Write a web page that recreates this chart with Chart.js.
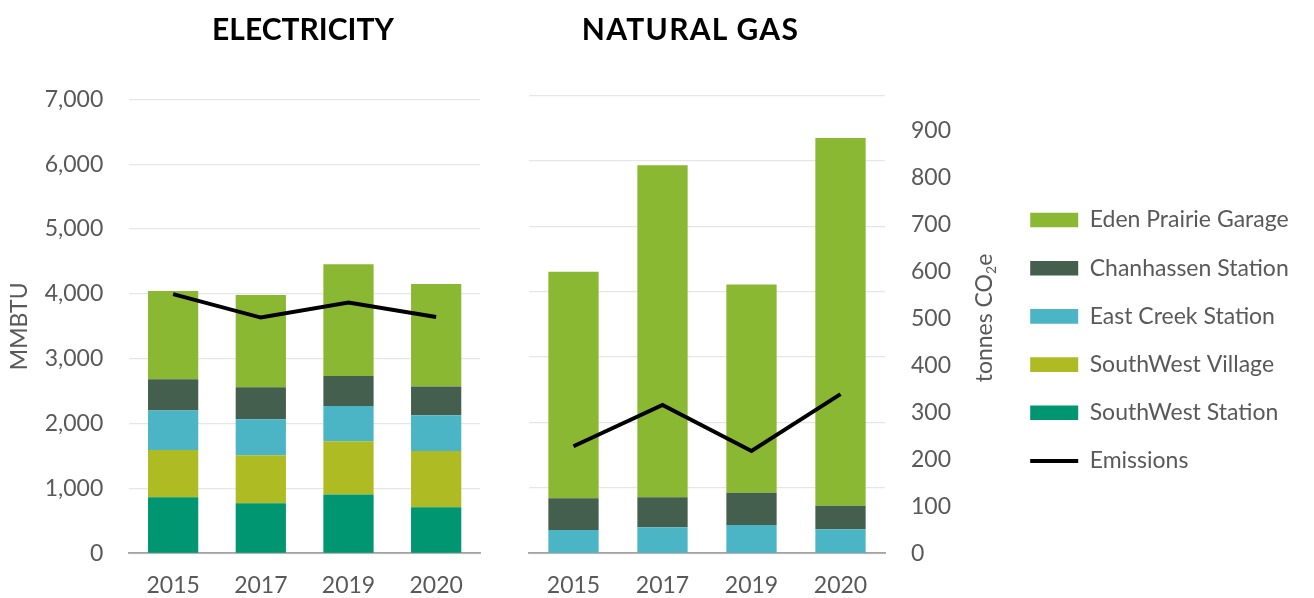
<!DOCTYPE html>
<html>
<head>
<meta charset="utf-8">
<script src="https://cdn.jsdelivr.net/npm/chart.js@4.4.1/dist/chart.umd.min.js"></script>
<style>
  html, body { margin: 0; padding: 0; background: #fff; }
  #wrap { position: relative; width: 1314px; height: 598px; overflow: hidden; font-family: 'Lato', sans-serif; }
  canvas { position: absolute; top: 0; }
  .ttl { position: absolute; top: 10px; font: bold 30px 'Lato', sans-serif; line-height: 36px; color: #000; text-align: center; }
  #ytitle2 { position: absolute; left: 884px; top: 303px; width: 200px; height: 30px; line-height: 30px; text-align: center;
             font: 23px 'Lato', sans-serif; color: #595959; transform: rotate(-90deg); white-space: nowrap; }
  #ytitle2 sub { font-size: 14px; vertical-align: -4px; line-height: 0; }
</style>
</head>
<body>
<div id="wrap">
  <canvas id="elec" width="500" height="598" style="left:0px"></canvas>
  <canvas id="gas" width="814" height="598" style="left:500px"></canvas>
  <div class="ttl" style="left:0px;width:606px">ELECTRICITY</div>
  <div class="ttl" style="left:500px;width:381px;letter-spacing:1.3px">NATURAL GAS</div>
  <div id="ytitle2">tonnes CO<sub>2</sub>e</div>
</div>
<script>
// ---- data ----
const categories = ['2015', '2017', '2019', '2020'];

// Electricity (MMBTU)
const elecSouthWestStation = [863, 771, 905, 709];
const elecSouthWestVillage = [730, 740, 822, 869];
const elecEastCreek        = [607, 555, 545, 550];
const elecChanhassen       = [483, 493, 462, 442];
const elecEdenPrairie      = [1362, 1424, 1722, 1583];
const elecEmissions        = [552, 502, 534, 503];   // tonnes CO2e

// Natural gas (MMBTU)
const gasSouthWestStation = [0, 0, 0, 0];
const gasSouthWestVillage = [0, 0, 0, 0];
const gasEastCreek        = [356, 397, 433, 367];
const gasChanhassen       = [484, 458, 494, 361];
const gasEdenPrairie      = [3462, 5077, 3182, 5621];
const gasEmissions        = [228, 316, 218, 339];    // tonnes CO2e

const seriesNames = ['SouthWest Station', 'SouthWest Village', 'East Creek Station', 'Chanhassen Station', 'Eden Prairie Garage'];
const seriesColors = ['#009672', '#AFBB22', '#4BB5C5', '#455F4F', '#8AB833'];
const mmbtuTicks = { min: 0, max: 7000, step: 1000 };
const tonnesTicks = { min: 0, step: 100 };

// ---- styling ----
const TEXT = '#595959';
const GRID = '#E6E6E6';
const AXIS = '#A3A3A3';
const FS = 23;
const FONT = { family: 'Lato', size: FS };
const PX_PER_TONNE = 0.4696;   // common tonnes scale across both panels

function bars(values, pct) {
  return values.map((v, i) => ({
    type: 'bar', label: seriesNames[i], data: v, backgroundColor: seriesColors[i],
    borderWidth: 0, categoryPercentage: 1, barPercentage: pct, order: 1, yAxisID: 'y', stack: 's'
  }));
}
function line(values) {
  return { type: 'line', label: 'Emissions', data: values, borderColor: '#000', backgroundColor: '#000',
           borderWidth: 4, pointRadius: 0, tension: 0, order: 0, yAxisID: 'y2', borderJoinStyle: 'miter' };
}
function xAxis() {
  return {
    grid: { display: false, drawTicks: false },
    border: { display: true, color: AXIS, width: 1.7 },
    ticks: { color: TEXT, font: FONT, padding: 18 },
    afterFit: s => { s.height = 44.7; }
  };
}

Chart.defaults.font.family = 'Lato';

// ---- Electricity ----
const elecTop = 99.3, bottomY = 553.3;
new Chart(document.getElementById('elec'), {
  data: {
    labels: categories,
    datasets: [...bars([elecSouthWestStation, elecSouthWestVillage, elecEastCreek, elecChanhassen, elecEdenPrairie], 0.573),
               line(elecEmissions)]
  },
  options: {
    responsive: false, animation: false, devicePixelRatio: 1,
    layout: { padding: { top: elecTop, right: 20, left: 0, bottom: 0 } },
    plugins: { legend: { display: false }, tooltip: { enabled: false } },
    scales: {
      x: xAxis(),
      y: {
        stacked: true, min: mmbtuTicks.min, max: mmbtuTicks.max,
        grid: { color: GRID, lineWidth: 1.3, drawTicks: false },
        border: { display: false },
        ticks: { stepSize: mmbtuTicks.step, color: TEXT, font: FONT, padding: 26,
                 callback: v => v.toLocaleString('en-US') },
        title: { display: true, text: 'MMBTU', color: TEXT, font: FONT, padding: { top: 6, bottom: 0 } },
        afterFit: s => { s.width = 129.3; }
      },
      y2: { display: false, min: tonnesTicks.min, max: (bottomY - elecTop) / PX_PER_TONNE }
    }
  }
});

// ---- Natural gas ----
const gasTop = 95.3;
const LEG_PAD = 25.2, LEG_BOX = 48;
const mctx = document.createElement('canvas').getContext('2d');
mctx.font = FS + 'px Lato';
const maxTextW = Math.max(...seriesNames.concat(['Emissions']).map(t => mctx.measureText(t).width));
const legendW = LEG_PAD + LEG_BOX + FS / 2 + maxTextW + 3;
const gasCanvasW = 814, gasAreaRight = 385, y2W = 120;
const gasPadRight = Math.max(0, gasCanvasW - gasAreaRight - y2W - legendW);

new Chart(document.getElementById('gas'), {
  data: {
    labels: categories,
    datasets: [...bars([gasSouthWestStation, gasSouthWestVillage, gasEastCreek, gasChanhassen, gasEdenPrairie], 0.565),
               line(gasEmissions)]
  },
  options: {
    responsive: false, animation: false, devicePixelRatio: 1,
    layout: { padding: { top: gasTop, right: gasPadRight, left: 0, bottom: 0 } },
    plugins: {
      tooltip: { enabled: false },
      legend: {
        position: 'right', align: 'start', fullSize: false, maxWidth: legendW,
        title: { display: true, text: '', font: { size: 10, lineHeight: 1 }, padding: { top: 78, bottom: 0 } },
        labels: {
          color: TEXT, font: FONT, padding: LEG_PAD, usePointStyle: true, pointStyleWidth: LEG_BOX, boxHeight: 14.6,
          generateLabels: chart => {
            const items = Chart.defaults.plugins.legend.labels.generateLabels(chart);
            items.forEach(it => {
              const ds = chart.data.datasets[it.datasetIndex];
              if (ds.type === 'line') { it.pointStyle = 'line'; it.lineWidth = 4; it.strokeStyle = '#000'; }
              else { it.pointStyle = 'rect'; it.lineWidth = 0; }
            });
            const key = it => chart.data.datasets[it.datasetIndex].type === 'line' ? 100 : -it.datasetIndex;
            return items.sort((a, b) => key(a) - key(b));
          }
        }
      }
    },
    scales: {
      x: xAxis(),
      y: {
        stacked: true, min: mmbtuTicks.min, max: mmbtuTicks.max, position: 'left',
        grid: { color: GRID, lineWidth: 1.3, drawTicks: false },
        border: { display: false },
        ticks: { display: false, stepSize: mmbtuTicks.step },
        afterFit: s => { s.width = 29; }
      },
      y2: {
        position: 'right', min: tonnesTicks.min, max: (bottomY - gasTop) / PX_PER_TONNE,
        grid: { drawOnChartArea: false, drawTicks: false },
        border: { display: false },
        ticks: { stepSize: tonnesTicks.step, includeBounds: false, color: TEXT, font: FONT, padding: 26 },
        afterFit: s => { s.width = y2W; }
      }
    }
  }
});
</script>
</body>
</html>
